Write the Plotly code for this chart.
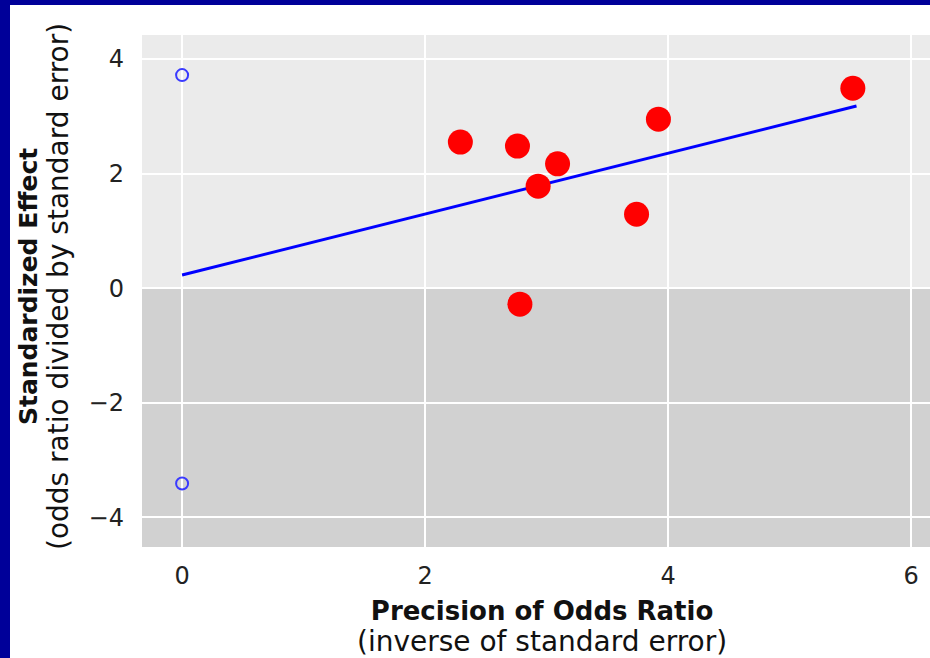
import plotly.graph_objects as go

# Study points
precision = [2.29, 2.76, 3.09, 2.93, 3.74, 3.92, 5.52, 2.78]
std_effect = [2.55, 2.48, 2.17, 1.78, 1.29, 2.95, 3.49, -0.28]

# Regression line endpoints
fit_x = [0.0, 5.55]
fit_y = [0.23, 3.18]

# Intercept interval markers
ci_x = [0.0, 0.0]
ci_y = [3.72, -3.41]

x_ticks = [0, 2, 4, 6]
y_ticks = [-4, -2, 0, 2, 4]

x_title = ["Precision of Odds Ratio", "(inverse of standard error)"]
y_title = ["Standardized Effect", "(odds ratio divided by standard error)"]

x_range = [-0.33, 6.155]
y_range = [-4.52, 4.42]

FONT = "DejaVu Sans"
W, H = 930, 658
ML, MR, MT, MB = 142, 0, 35, 111
PW, PH = W - ML - MR, H - MT - MB


def px_x(p):
    return (p - ML) / PW


def px_y(p):
    return (H - MB - p) / PH


def two_line(l1, l2, s1, s2):
    return (f"<span style='font-size:{s1}px;font-weight:700'>{l1}</span><br>"
            f"<span style='font-size:{s2}px;font-weight:400'>{l2}</span>")


fig = go.Figure()

fig.add_trace(go.Scatter(x=fit_x, y=fit_y, mode="lines",
                         line=dict(color="#0000FF", width=3), hoverinfo="skip"))
fig.add_trace(go.Scatter(x=precision, y=std_effect, mode="markers",
                         marker=dict(color="#FF0000", size=25, line=dict(width=0))))
fig.add_trace(go.Scatter(x=ci_x, y=ci_y, mode="markers",
                         marker=dict(color="rgba(0,0,0,0)", size=12,
                                     line=dict(color="#3A3AFF", width=2))))

# darker lower half (negative effects)
fig.add_shape(type="rect", xref="x domain", yref="y", x0=0, x1=1, y0=y_range[0], y1=0,
              fillcolor="#D1D1D1", line=dict(width=0), layer="below")

# navy frame strips (left & top)
fig.add_shape(type="rect", xref="paper", yref="paper",
              x0=px_x(0), x1=px_x(10), y0=px_y(H), y1=px_y(0),
              fillcolor="#000099", line=dict(width=0), layer="above")
fig.add_shape(type="rect", xref="paper", yref="paper",
              x0=px_x(0), x1=1, y0=px_y(5), y1=px_y(0),
              fillcolor="#000099", line=dict(width=0), layer="above")

# axis titles (one text element each)
fig.add_annotation(text=two_line(x_title[0], x_title[1], 26, 28),
                   xref="paper", yref="paper", x=px_x(542), y=px_y(627),
                   xanchor="center", yanchor="middle", align="center", borderpad=0,
                   showarrow=False, font=dict(family=FONT, size=24.2, color="#111"))
fig.add_annotation(text=two_line(y_title[0], y_title[1], 25, 28),
                   xref="paper", yref="paper", textangle=-90,
                   x=px_x(44), y=px_y(287),
                   xanchor="center", yanchor="middle", align="center", borderpad=0,
                   showarrow=False, font=dict(family=FONT, size=23.8, color="#111"))

fig.update_layout(
    width=W, height=H,
    margin=dict(l=ML, r=MR, t=MT, b=MB),
    paper_bgcolor="white",
    plot_bgcolor="#EBEBEB",
    showlegend=False,
    font=dict(family=FONT, color="#1a1a1a", size=24),
)

fig.update_xaxes(
    range=x_range, tickvals=x_ticks, showgrid=True, gridcolor="white", gridwidth=2,
    zeroline=False, showline=False, ticks="", ticklabelstandoff=12,
    tickfont=dict(size=24, color="#222"),
)
fig.update_yaxes(
    range=y_range, tickvals=y_ticks, showgrid=True, gridcolor="white", gridwidth=2,
    zeroline=False, showline=False, ticks="", ticklabelstandoff=17,
    tickfont=dict(size=24, color="#222"),
)

fig.write_html("out.html")
